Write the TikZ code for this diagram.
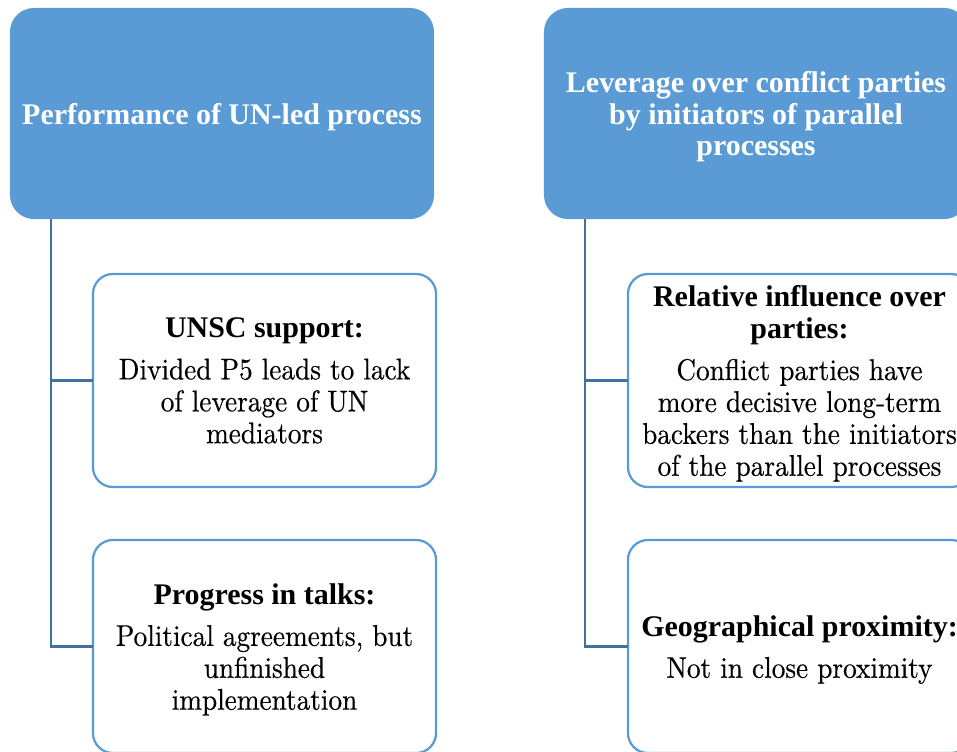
\documentclass[tikz,border=0pt]{standalone}
\usepackage{fontspec}
\setmainfont{lmroman10-regular.otf}[FakeStretch=0.91,FakeBold=0.4,BoldFont=LiberationSerif-Bold.ttf,BoldFeatures={FakeStretch=1,FakeBold=0}]
\definecolor{hdblue}{HTML}{5B9BD5}
\definecolor{lnblue}{HTML}{41719C}
\begin{document}
\begin{tikzpicture}[x=0.025cm,y=-0.025cm,
  every node/.style={align=center,inner sep=0pt,outer sep=0pt,text depth=0pt,font=\fontsize{21.3}{22.7}\selectfont},
  head/.style={fill=hdblue,text=white,font=\fontsize{21.3}{22.7}\selectfont\bfseries,rounded corners=0.6cm,minimum width=10.6cm,minimum height=5.275cm},
  item/.style={draw=hdblue,line width=1.6pt,fill=white,rounded corners=0.5cm,minimum width=8.575cm,minimum height=5.325cm},
  link/.style={draw=lnblue,line width=1.6pt}]
\useasboundingbox (0,0) rectangle (957,751);
\clip (0,0) rectangle (957,751);
\node[head] (perf) at (222,113.5) {Performance of UN-led process};
\node[head] (lev) at (756,113.5) {Leverage over conflict parties\\by initiators of parallel\\processes};
\node[item] (unsc) at (264.5,380.5) {\textbf{UNSC support:}\\[7pt]Divided P5 leads to lack\\of leverage of UN\\mediators};
\node[item] (talks) at (264.5,646.5) {\textbf{Progress in talks:}\\[7pt]Political agreements, but\\unfinished\\implementation};
\node[item] (infl) at (799.5,380.5) {\textbf{Relative influence over}\\\textbf{parties:}\\[7pt]Conflict parties have\\more decisive long-term\\backers than the initiators\\of the parallel processes};
\node[item] (geo) at (799.5,646.5) {\textbf{Geographical proximity:}\\[7pt]Not in close proximity};
\draw[link] ([xshift=1.025cm]perf.south west) |- (unsc.west) ([xshift=1.025cm]perf.south west) |- (talks.west);
\draw[link] ([xshift=1.025cm]lev.south west) |- (infl.west) ([xshift=1.025cm]lev.south west) |- (geo.west);
\end{tikzpicture}
\end{document}
